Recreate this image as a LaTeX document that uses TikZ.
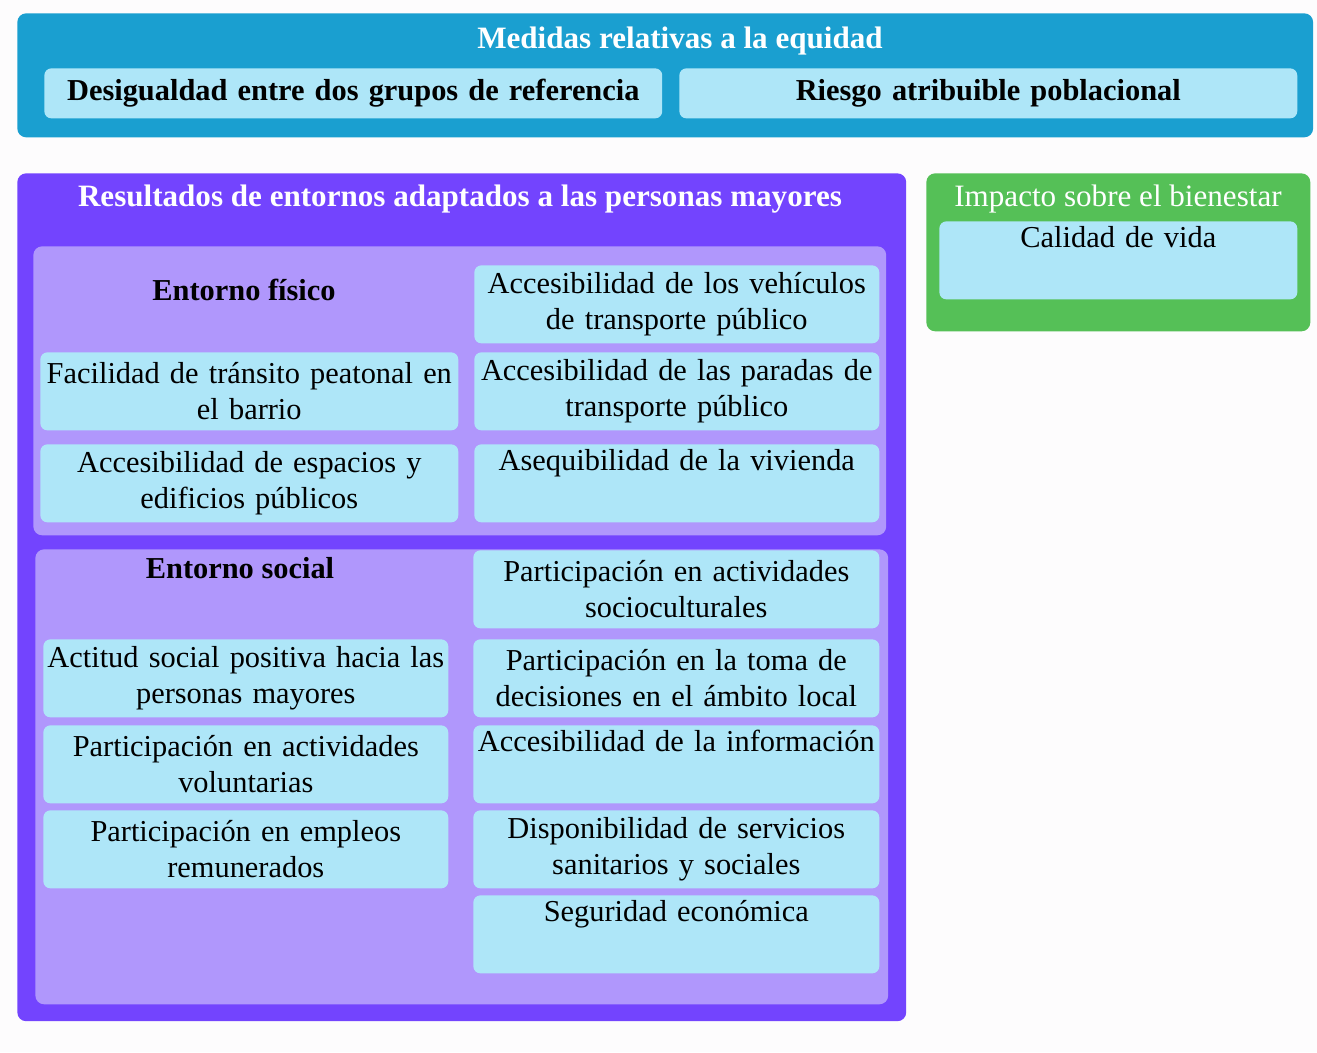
\documentclass[tikz,border=0pt]{standalone}
\usepackage{fontspec}
\setmainfont{Liberation Serif}
\usetikzlibrary{positioning}

\definecolor{pagebg}{HTML}{FDFCFD}
\definecolor{equityblue}{HTML}{1A9FD0}
\definecolor{cellblue}{HTML}{AEE6F8}
\definecolor{outcomeviolet}{HTML}{7344FE}
\definecolor{domainlilac}{HTML}{B097FC}
\definecolor{impactgreen}{HTML}{55C057}

\tikzset{
	panel/.style={anchor=north west, inner sep=0pt, rounded corners=5pt},
	cell/.style={anchor=north west, fill=cellblue, rounded corners=4pt, inner xsep=0pt, inner ysep=0pt,
		align=center, minimum height=1.56cm, font=\fontsize{17.3}{20.5}\selectfont},
	head/.style={font=\fontsize{17.3}{20.5}\selectfont\bfseries},
	whitehead/.style={text=white, font=\fontsize{17.7}{20.5}\selectfont\bfseries}
}

\begin{document}
\begin{tikzpicture}[x=0.02cm, y=-0.02cm]
	\fill[pagebg] (0,0) rectangle (1317,1052);
	\useasboundingbox (0,0) rectangle (1317,1052);

	% equity measures
	\path (17,13) node (equity) [panel, fill=equityblue, minimum width=25.92cm, minimum height=2.48cm] {}
		  (680,41) node (equitytitle) [whitehead] {Medidas relativas a la equidad}
		  (44,68) node (gap) [cell, text width=12.36cm, minimum height=1cm, font=\fontsize{17.3}{20.5}\selectfont\bfseries] {Desigualdad entre dos grupos de referencia}
		  (679,68) node (par) [cell, text width=12.36cm, minimum height=1cm, font=\fontsize{17.3}{20.5}\selectfont\bfseries] {Riesgo atribuible poblacional};

	% outcomes
	\path (17,173) node (outcomes) [panel, fill=outcomeviolet, minimum width=17.78cm, minimum height=16.96cm] {}
		  (460,199) node (outcomestitle) [whitehead] {Resultados de entornos adaptados a las personas mayores}
		  (33,246) node (physical) [panel, fill=domainlilac, minimum width=17.06cm, minimum height=5.78cm] {}
		  (35,549) node (social) [panel, fill=domainlilac, minimum width=17.06cm, minimum height=9.10cm] {};

	% physical environment
	\path (244,290) node (physicaltitle) [head] {Entorno físico}
		  (40,352) node (walk) [cell, text width=8.36cm] {Facilidad de tránsito peatonal en\\el barrio}
		  (40,444) node (spaces) [cell, text width=8.36cm] {Accesibilidad de espacios y\\edificios públicos}
		  (474,265) node (vehicles) [cell, text width=8.10cm] {Accesibilidad de los vehículos\\de transporte público}
		  (474,352) node (stops) [cell, text width=8.10cm] {Accesibilidad de las paradas de\\transporte público}
		  (474,444) node (housing) [cell, text width=8.10cm] {Asequibilidad de la vivienda\\\strut};

	% social environment
	\path (240,568) node (socialtitle) [head] {Entorno social}
		  (43,639) node (attitude) [cell, text width=8.10cm] {Actitud social positiva hacia las\\personas mayores}
		  (43,725) node (volunteer) [cell, text width=8.10cm] {Participación en actividades\\voluntarias}
		  (43,810) node (paidwork) [cell, text width=8.10cm] {Participación en empleos\\remunerados}
		  (473,550) node (culture) [cell, text width=8.12cm] {Participación en actividades\\socioculturales}
		  (473,639) node (decisions) [cell, text width=8.12cm] {Participación en la toma de\\decisiones en el ámbito local}
		  (473,725) node (information) [cell, text width=8.12cm] {Accesibilidad de la información\\\strut}
		  (473,810) node (services) [cell, text width=8.12cm] {Disponibilidad de servicios\\sanitarios y sociales}
		  (473,895) node (income) [cell, text width=8.12cm] {Seguridad económica\\\strut};

	% impact on well-being
	\path (926,173) node (impact) [panel, fill=impactgreen, minimum width=7.68cm, minimum height=3.16cm] {}
		  (1118,199) node (impacttitle) [text=white, font=\fontsize{17.7}{20.5}\selectfont] {Impacto sobre el bienestar}
		  (939,221) node (quality) [cell, text width=7.16cm] {Calidad de vida\\\strut};
\end{tikzpicture}
\end{document}
